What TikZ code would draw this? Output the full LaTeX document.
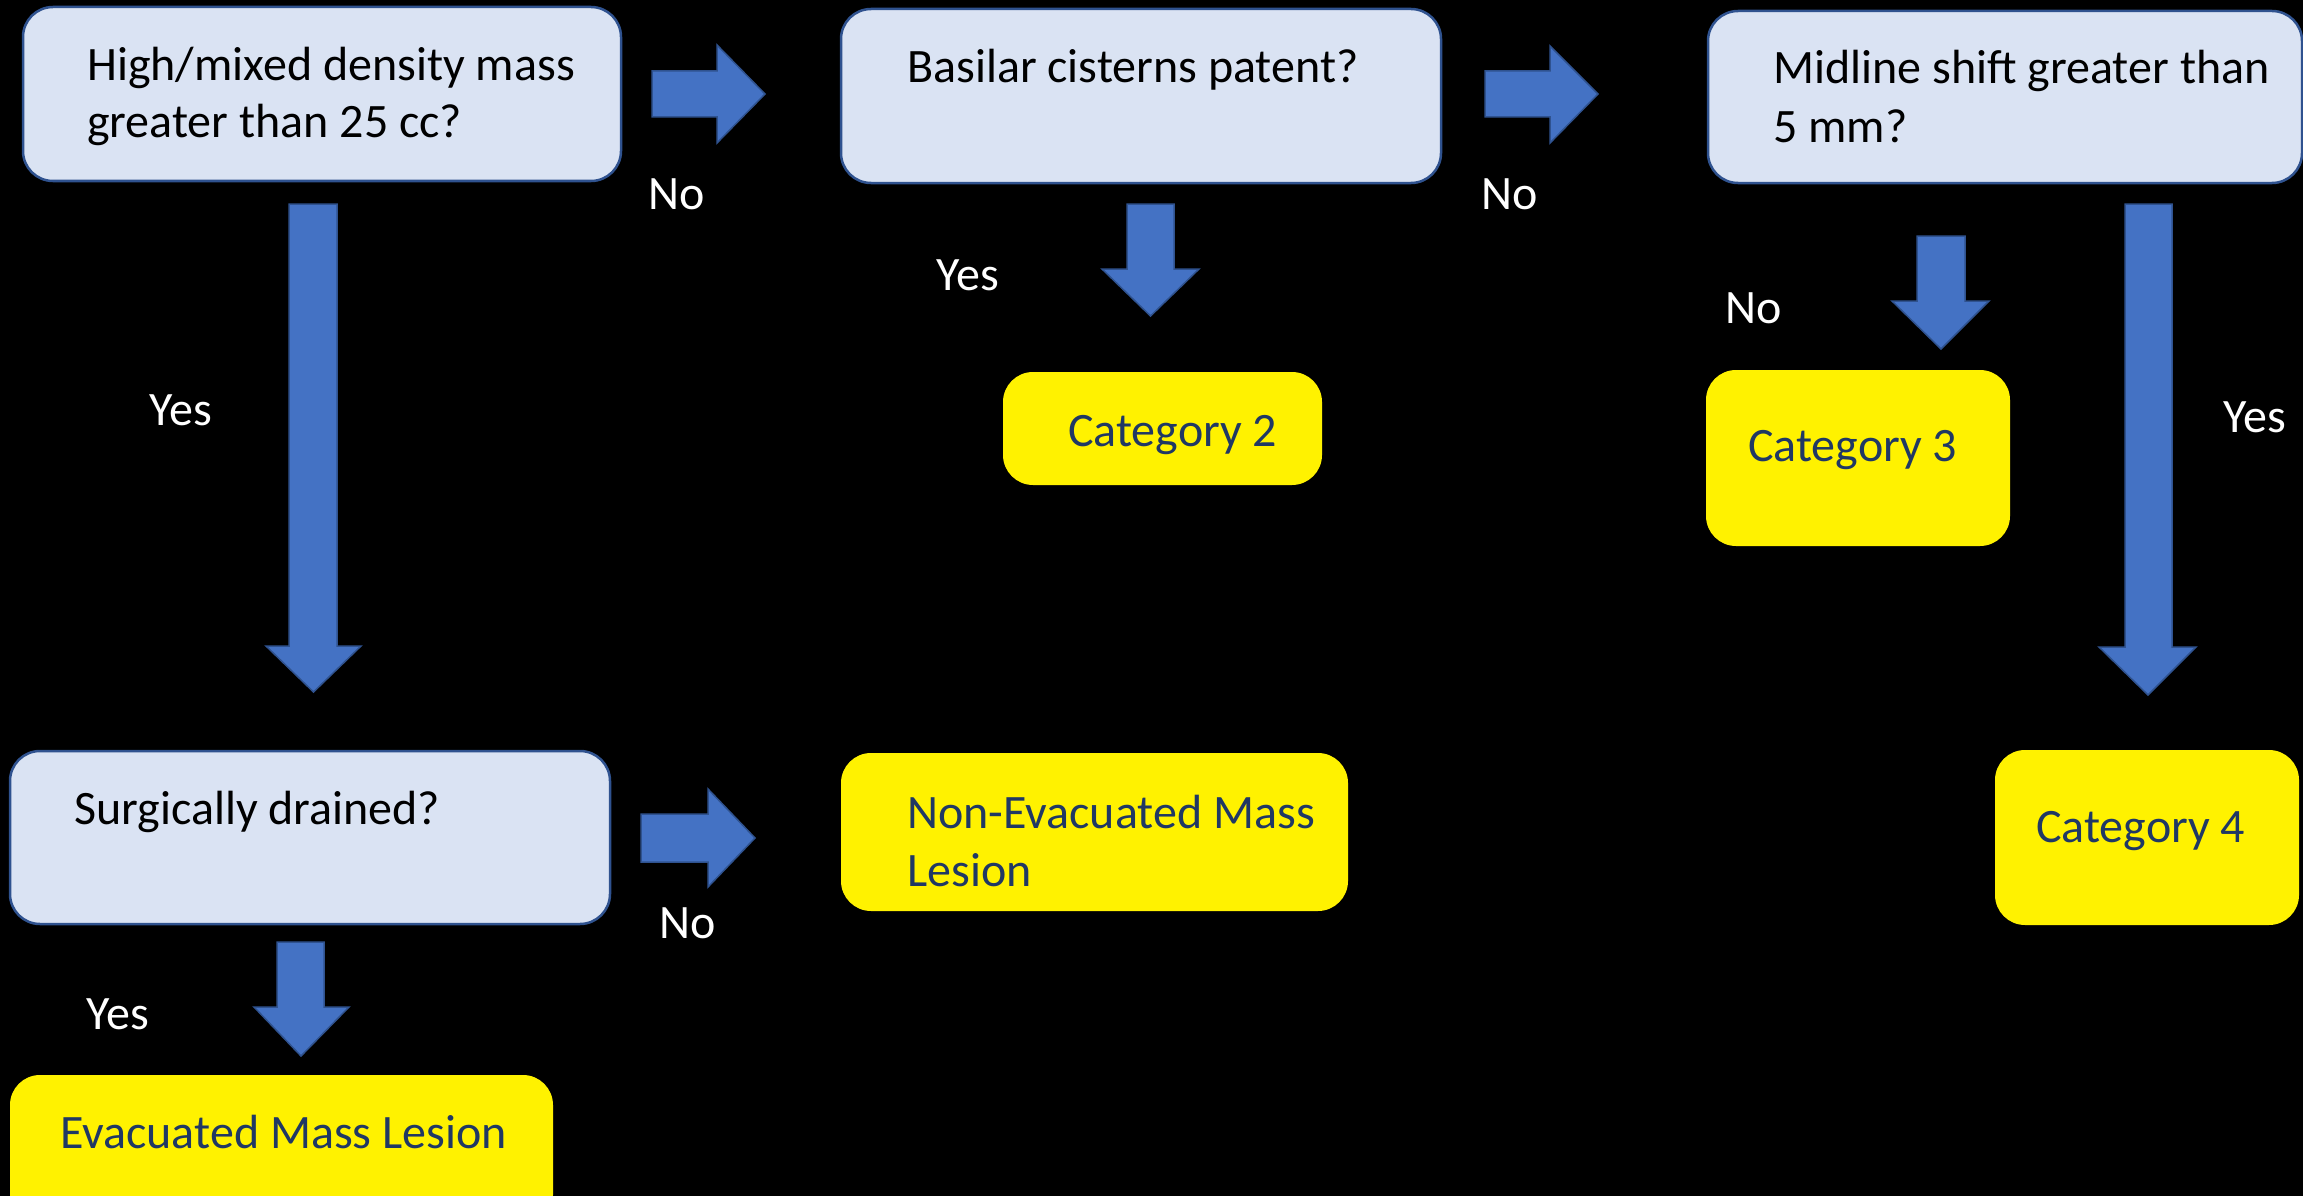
\documentclass[tikz,border=0pt]{standalone}
\usepackage{fontspec}
\setmainfont{Carlito}
\definecolor{bfill}{HTML}{DAE3F3}
\definecolor{bline}{HTML}{2F528F}
\definecolor{afill}{HTML}{4472C4}
\definecolor{navy}{HTML}{203864}
\begin{document}
\begin{tikzpicture}[x=1pt,y=-1pt,
  qbox/.style={draw=bline, line width=2.5pt, fill=bfill, rounded corners=30pt, inner sep=0pt, outer sep=0pt, anchor=north west},
  ybox/.style={fill=yellow, rounded corners=30pt, inner sep=0pt, outer sep=0pt, anchor=north west},
  txt/.style={font=\fontsize{48}{58}\selectfont, anchor=base west, inner sep=0pt, align=left},
  lbl/.style={font=\fontsize{48}{58}\selectfont, anchor=base, inner sep=0pt, text=white},
  barrow/.style={fill=afill, draw=bline, line width=1.5pt, line join=miter}]
\fill[black] (0,0) rectangle (2303,1196);
\useasboundingbox (0,0) rectangle (2303,1196);

% question boxes
\node[qbox, minimum width=598pt, minimum height=174pt] (q1) at (23,7) {};
\node[qbox, minimum width=600pt, minimum height=174pt] (q2) at (841,9) {};
\node[qbox, minimum width=594pt, minimum height=172pt] (q3) at (1708,11) {};
\node[qbox, minimum width=600pt, minimum height=173pt] (q4) at (10,751) {};

% outcome boxes
\node[ybox, minimum width=319pt, minimum height=113pt] (c2) at (1003,372) {};
\node[ybox, minimum width=304pt, minimum height=176pt] (c3) at (1706,370) {};
\node[ybox, minimum width=304pt, minimum height=175pt] (c4) at (1995,750) {};
\node[ybox, minimum width=507pt, minimum height=158pt] (ne) at (841,753) {};
\node[ybox, minimum width=543pt, minimum height=150pt] (ev) at (10,1075) {};

% texts
\node[txt] (t1a) at (87,81) {High/mixed density mass};
\node[txt] (t1b) at (87,138) {greater than 25 cc?};
\node[txt] (t2) at (907,83) {Basilar cisterns patent?};
\node[txt] (t3a) at (1773,84) {Midline shift greater than};
\node[txt] (t3b) at (1773,143) {5 mm?};
\node[txt] (t4) at (74,824) {Surgically drained?};
\node[txt, text=navy] (tne1) at (907,828) {Non-Evacuated Mass};
\node[txt, text=navy] (tne2) at (907,886) {Lesion};
\node[txt, text=navy] (tev) at (60,1148) {Evacuated Mass Lesion};
\node[txt, text=navy] (tc2) at (1068,446) {Category 2};
\node[txt, text=navy] (tc3) at (1748,461) {Category 3};
\node[txt, text=navy] (tc4) at (2036,842) {Category 4};

% block arrows: right
\draw[barrow] (652,71) -- (717,71) -- (717,45) -- (765,94) -- (717,143) -- (717,117) -- (652,117) -- cycle;
\draw[barrow] (1485,71) -- (1550,71) -- (1550,46) -- (1598,94) -- (1550,143) -- (1550,117) -- (1485,117) -- cycle;
\draw[barrow] (641,814) -- (708,814) -- (708,789) -- (755,838) -- (708,887) -- (708,862) -- (641,862) -- cycle;
% block arrows: down
\draw[barrow] (289,204) -- (337,204) -- (337,646) -- (361,646) -- (313.5,692) -- (266,646) -- (289,646) -- cycle;
\draw[barrow] (1127,204) -- (1174,204) -- (1174,269) -- (1199,269) -- (1150.5,316) -- (1102,269) -- (1127,269) -- cycle;
\draw[barrow] (1917,236) -- (1965,236) -- (1965,301) -- (1989,301) -- (1941,349) -- (1892,301) -- (1917,301) -- cycle;
\draw[barrow] (2125,204) -- (2172,204) -- (2172,647) -- (2196,647) -- (2148,695) -- (2099,647) -- (2125,647) -- cycle;
\draw[barrow] (277,942) -- (324,942) -- (324,1007) -- (349,1007) -- (301,1056) -- (254,1007) -- (277,1007) -- cycle;

% labels
\node[lbl] (n1) at (677,209) {No};
\node[lbl] (n2) at (1510,209) {No};
\node[lbl] (n3) at (688,938) {No};
\node[lbl] (n4) at (1754,323) {No};
\node[lbl] (y1) at (181,425) {Yes};
\node[lbl] (y2) at (968,290) {Yes};
\node[lbl] (y3) at (118,1029) {Yes};
\node[lbl] (y4) at (2255,432) {Yes};
\end{tikzpicture}
\end{document}
